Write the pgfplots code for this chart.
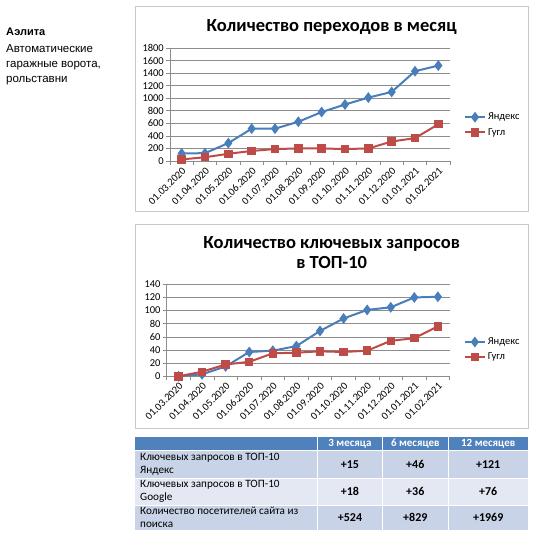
\documentclass[border=0pt]{standalone}
\usepackage{pgfplots}
\pgfplotsset{compat=1.18}
\usepackage{fontspec}
\setmainfont{Carlito}
\newfontfamily\arialfont{Liberation Sans}
\definecolor{yblue}{HTML}{4A7EBB}
\definecolor{gred}{HTML}{BE4B48}
\definecolor{framegray}{HTML}{C8C8C8}
\definecolor{gridgray}{HTML}{8C8C8C}
\definecolor{hdrblue}{HTML}{4F81BD}
\definecolor{rowA}{HTML}{C9D3E7}
\definecolor{rowB}{HTML}{E3E8F2}
\pgfplotsset{
  mychart/.style={
    scale only axis,
    anchor=south west,
    xmin=-0.5, xmax=11.5, ymin=0,
    xtick={0,...,11},
    xticklabels={01.03.2020,01.04.2020,01.05.2020,01.06.2020,01.07.2020,01.08.2020,01.09.2020,01.10.2020,01.11.2020,01.12.2020,01.01.2021,01.02.2021},
    minor xtick={-0.5,0.5,...,11.5},
    axis x line=bottom, axis y line=left,
    axis line style={-, draw=gridgray, line width=0.6pt},
    tick align=outside,
    major tick length=4pt, minor tick length=4pt,
    major x tick style={draw=none},
    minor x tick style={draw=gridgray, line width=0.6pt},
    major y tick style={draw=gridgray, line width=0.6pt},
    ymajorgrids, grid style={draw=gridgray, line width=0.6pt},
    /pgf/number format/assume math mode=true,
    /pgf/number format/set thousands separator={},
    tick label style={font=\fontsize{10.5}{11}\selectfont},
    xticklabel style={rotate=45, anchor=north east, inner sep=1pt},
    yticklabel style={inner sep=2pt},
    legend style={draw=none, fill=none, anchor=west,
      font=\fontsize{10.5}{12}\selectfont, row sep=3pt,
      inner sep=0pt, outer sep=0pt},
    legend cell align=left,
    legend image code/.code={\draw[mark repeat=2,mark phase=2,#1] plot coordinates {(0pt,0pt)(10pt,0pt)(20pt,0pt)};},
  },
  yand/.style={color=yblue, line width=2pt, mark=diamond*, mark size=3.8pt, mark options={solid}},
  goog/.style={color=gred, line width=2pt, mark=square*, mark size=3.2pt, mark options={solid}},
}
\begin{document}
\begin{tikzpicture}
\path[use as bounding box] (0pt,0pt) rectangle (536pt,-540pt);
% left text
\node[anchor=base west, inner sep=0pt, font=\arialfont\bfseries\fontsize{11}{12}\selectfont] at (6pt,-36pt) {Аэлита};
\node[anchor=north west, inner sep=0pt, align=left, font=\arialfont\fontsize{11.5}{15}\selectfont] at (6pt,-44pt) {Автоматические\\гаражные ворота,\\рольставни};
% frames
\draw[framegray, line width=0.8pt] (135pt,-6pt) rectangle (528pt,-211pt);
\draw[framegray, line width=0.8pt] (135pt,-224pt) rectangle (528pt,-428pt);
% titles
\node[font=\bfseries\fontsize{18.5}{20}\selectfont] at (331.7pt,-26.7pt) {Количество переходов в месяц};
\node[font=\bfseries\fontsize{18.5}{20}\selectfont, align=center] at (331.7pt,-253pt) {Количество ключевых запросов\\в ТОП-10};
% chart 1
\begin{axis}[mychart, at={(170pt,-161pt)}, width=280pt, height=113pt,
  ymax=1800, ytick={0,200,...,1800},
  legend style={at={(1.05,0.32)}}]
\addplot[yand] coordinates {(0,120)(1,125)(2,285)(3,515)(4,515)(5,625)(6,780)(7,900)(8,1010)(9,1100)(10,1430)(11,1520)};
\addlegendentry{Яндекс}
\addplot[goog] coordinates {(0,25)(1,60)(2,115)(3,160)(4,190)(5,200)(6,200)(7,190)(8,200)(9,310)(10,365)(11,585)};
\addlegendentry{Гугл}
\end{axis}
% chart 2
\begin{axis}[mychart, at={(166.7pt,-376.3pt)}, width=283pt, height=92pt,
  ymax=140, ytick={0,20,...,140},
  legend style={at={(1.05,0.29)}}]
\addplot[yand] coordinates {(0,0)(1,3)(2,15)(3,37)(4,39)(5,46)(6,69)(7,88)(8,101)(9,105)(10,120)(11,121)};
\addlegendentry{Яндекс}
\addplot[goog] coordinates {(0,0)(1,7)(2,18)(3,22)(4,35)(5,36)(6,38)(7,37)(8,39)(9,54)(10,58)(11,76)};
\addlegendentry{Гугл}
\end{axis}
% table
\fill[hdrblue] (135pt,-436.7pt) rectangle (528pt,-450pt);
\fill[rowA] (135pt,-450pt) rectangle (528pt,-478pt);
\fill[rowB] (135pt,-478pt) rectangle (528pt,-505pt);
\fill[rowA] (135pt,-505pt) rectangle (528pt,-530pt);
\draw[white, line width=0.8pt] (135pt,-450pt) -- (528pt,-450pt);
\draw[white, line width=0.6pt] (135pt,-478pt) -- (528pt,-478pt);
\draw[white, line width=0.6pt] (135pt,-505pt) -- (528pt,-505pt);
\foreach \xx in {317.7,382.3,448.3} {\draw[white, line width=0.8pt] (\xx pt,-436.7pt) -- (\xx pt,-530pt);}
\foreach \xx/\tt in {350/3 месяца, 415.3/6 месяцев, 488.2/12 месяцев} {
  \node[text=white, font=\bfseries\fontsize{11}{12}\selectfont] at (\xx pt,-443.5pt) {\tt};}
\node[anchor=west, align=left, inner sep=0pt, font=\fontsize{11.2}{12.6}\selectfont] at (140pt,-464.5pt) {Ключевых запросов в ТОП-10\\Яндекс};
\node[anchor=west, align=left, inner sep=0pt, font=\fontsize{11.2}{12.6}\selectfont] at (140pt,-491.5pt) {Ключевых запросов в ТОП-10\\Google};
\node[anchor=west, align=left, inner sep=0pt, font=\fontsize{11.2}{12.6}\selectfont] at (140pt,-517.5pt) {Количество посетителей сайта из\\поиска};
\foreach \xx/\a/\b/\c in {350/+15/+18/+524, 415.3/+46/+36/+829, 488.2/+121/+76/+1969} {
  \node[font=\bfseries\fontsize{12}{13}\selectfont] at (\xx pt,-464.5pt) {\a};
  \node[font=\bfseries\fontsize{12}{13}\selectfont] at (\xx pt,-491.5pt) {\b};
  \node[font=\bfseries\fontsize{12}{13}\selectfont] at (\xx pt,-517.5pt) {\c};
}
\end{tikzpicture}
\end{document}
